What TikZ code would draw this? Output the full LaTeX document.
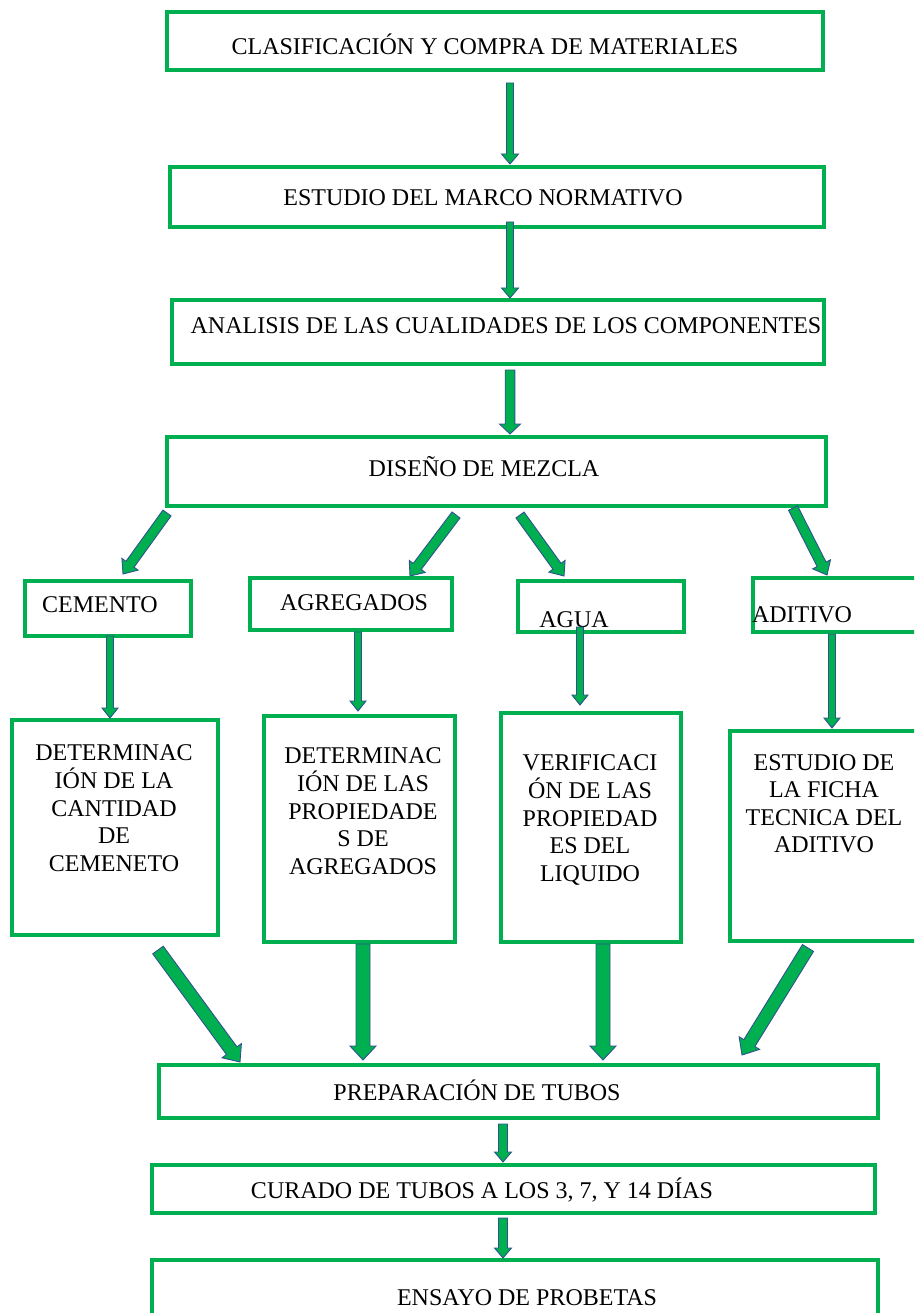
\documentclass[tikz,border=0pt]{standalone}
\usepackage{fontspec}
\setmainfont{Liberation Serif}
\usetikzlibrary{calc,fit}
\definecolor{bgreen}{HTML}{00B050}
\definecolor{aoutline}{HTML}{2F528F}
\newcommand{\blockarrow}[5]{%
  \coordinate (hb) at ($(#2)!#5!(#1)$);
  \draw[barrow] ($(#1)!#3!90:(#2)$) -- ($(hb)!#3!90:(#2)$) -- ($(hb)!#4!90:(#2)$) -- (#2)
    -- ($(hb)!#4!-90:(#2)$) -- ($(hb)!#3!-90:(#2)$) -- ($(#1)!#3!-90:(#2)$) -- cycle;}
\newcommand{\ml}[1]{\begin{tabular}[t]{@{}c@{}}#1\end{tabular}}
\begin{document}
\begin{tikzpicture}[x=1pt,y=-1pt,
  box/.style={draw=bgreen, line width=4pt, inner sep=0pt},
  txt/.style={font=\fontsize{24}{27.5}\selectfont, inner sep=0pt, anchor=base, text=black},
  barrow/.style={fill=bgreen, draw=aoutline, line width=0.9pt, line join=miter}]
\useasboundingbox (0,0) rectangle (914,1313);
\clip (0,0) rectangle (914,1313);
% boxes
\node[box, fit={(167,12) (823,70)}] (b1) {};
\node[box, fit={(170,167) (824,227)}] (b2) {};
\node[box, fit={(172,300) (824,364)}] (b3) {};
\node[box, fit={(167,437) (826,506)}] (b4) {};
\node[box, fit={(25,581) (191,636)}] (cem) {};
\node[box, fit={(250,578) (452,630)}] (agr) {};
\node[box, fit={(518,581) (684,632)}] (agu) {};
\node[box, fit={(753,578) (940,632)}] (adi) {};
\node[box, fit={(12,720) (218,935)}] (dc) {};
\node[box, fit={(264,716) (455,942)}] (da) {};
\node[box, fit={(501,713) (681,942)}] (ve) {};
\node[box, fit={(730,731) (940,941)}] (fi) {};
\node[box, fit={(159,1065) (878,1118)}] (pr) {};
\node[box, fit={(152,1165) (875,1213)}] (cu) {};
\node[box, fit={(152,1260) (878,1316)}] (en) {};
% texts
\node[txt] (t1) at (485,55) {CLASIFICACIÓN Y COMPRA DE MATERIALES};
\node[txt] (t2) at (483,206) {ESTUDIO DEL MARCO NORMATIVO};
\node[txt] (t3) at (506,333) {ANALISIS DE LAS CUALIDADES DE LOS COMPONENTES};
\node[txt] (t4) at (484,476) {DISEÑO DE MEZCLA};
\node[txt] (tcem) at (100,612) {CEMENTO};
\node[txt] (tagr) at (354,610) {AGREGADOS};
\node[txt] (tagu) at (574,627) {AGUA};
\node[txt] (tadi) at (802,622) {ADITIVO};
\node[txt] (tdc) at (114,760) {\ml{DETERMINAC\\IÓN DE LA\\CANTIDAD\\DE\\CEMENETO}};
\node[txt] (tda) at (363,763) {\ml{DETERMINAC\\IÓN DE LAS\\PROPIEDADE\\S DE\\AGREGADOS}};
\node[txt] (tve) at (590,770) {\ml{VERIFICACI\\ÓN DE LAS\\PROPIEDAD\\ES DEL\\LIQUIDO}};
\node[txt] (tfi) at (824,770) {\ml{ESTUDIO DE\\LA FICHA\\TECNICA DEL\\ADITIVO}};
\node[txt] (tpr) at (477,1100) {PREPARACIÓN DE TUBOS};
\node[txt] (tcu) at (482,1198) {CURADO DE TUBOS A LOS 3, 7, Y 14 DÍAS};
\node[txt] (ten) at (527,1305) {ENSAYO DE PROBETAS};
% arrow end points
\coordinate (a12s) at (510,83);   \coordinate (a12e) at (510,164);
\coordinate (a23s) at (510,222);  \coordinate (a23e) at (510,298);
\coordinate (a34s) at (510,370);  \coordinate (a34e) at (510,434);
\coordinate (d1s) at (167,513);   \coordinate (d1e) at (123,574);
\coordinate (d2s) at (456,515);   \coordinate (d2e) at (410,576);
\coordinate (d3s) at (520,515);   \coordinate (d3e) at (564,576);
\coordinate (d4s) at (793,508);   \coordinate (d4e) at (827,575);
\coordinate (v1s) at (110,636);   \coordinate (v1e) at (110,718);
\coordinate (v2s) at (358,632);   \coordinate (v2e) at (358,711);
\coordinate (v3s) at (580,627);   \coordinate (v3e) at (580,705);
\coordinate (v4s) at (832,634);   \coordinate (v4e) at (832,728);
\coordinate (l1s) at (158,950);   \coordinate (l1e) at (240,1062);
\coordinate (l2s) at (363,944);   \coordinate (l2e) at (363,1060);
\coordinate (l3s) at (603,944);   \coordinate (l3e) at (603,1060);
\coordinate (l4s) at (808,948);   \coordinate (l4e) at (742,1055);
\coordinate (p1s) at (503,1124);  \coordinate (p1e) at (503,1162);
\coordinate (p2s) at (503,1218);  \coordinate (p2e) at (503,1258);
% arrows
\blockarrow{a12s}{a12e}{3.5pt}{8.5pt}{10pt}
\blockarrow{a23s}{a23e}{3.5pt}{8.5pt}{10pt}
\blockarrow{a34s}{a34e}{4.8pt}{10.5pt}{10pt}
\blockarrow{d1s}{d1e}{5pt}{10pt}{12pt}
\blockarrow{d2s}{d2e}{5pt}{10pt}{12pt}
\blockarrow{d3s}{d3e}{5pt}{10pt}{12pt}
\blockarrow{d4s}{d4e}{5pt}{10pt}{12pt}
\blockarrow{v1s}{v1e}{3.5pt}{8pt}{10pt}
\blockarrow{v2s}{v2e}{3.5pt}{8pt}{10pt}
\blockarrow{v3s}{v3e}{3.5pt}{8pt}{10pt}
\blockarrow{v4s}{v4e}{3.5pt}{8pt}{10pt}
\blockarrow{l1s}{l1e}{6.5pt}{12pt}{14pt}
\blockarrow{l2s}{l2e}{7pt}{13pt}{14pt}
\blockarrow{l3s}{l3e}{7pt}{13pt}{14pt}
\blockarrow{l4s}{l4e}{6.5pt}{12pt}{14pt}
\blockarrow{p1s}{p1e}{4.5pt}{8.5pt}{10pt}
\blockarrow{p2s}{p2e}{4.5pt}{8.5pt}{10pt}
\end{tikzpicture}
\end{document}
